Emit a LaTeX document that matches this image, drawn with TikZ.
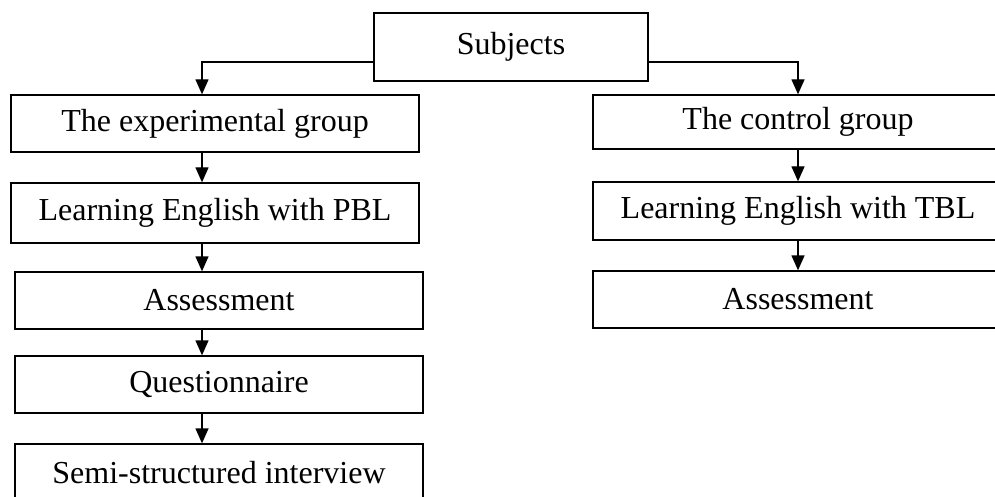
\documentclass[tikz,border=0pt]{standalone}
\usepackage{fontspec}
\setmainfont{Liberation Serif}
\usetikzlibrary{arrows.meta}
\begin{document}
\begin{tikzpicture}[x=1pt,y=-1pt,
  stage/.style={draw,line width=1.3pt,rectangle,inner sep=0pt,
    font=\fontsize{32}{38}\selectfont,minimum width=408pt,minimum height=57pt},
  flow/.style={line width=1.3pt,-{Triangle[width=13pt,length=15pt]}}]
\useasboundingbox (0,0) rectangle (995,497);
\clip (0,0) rectangle (995,497);
% top box
\node[stage,minimum width=274pt,minimum height=68pt] (subj) at (511,47) {Subjects};
% experimental branch
\node[stage,minimum height=57pt] (exp) at (215,123.5) {The experimental group};
\node[stage,minimum height=60pt] (pbl) at (215,213) {Learning English with PBL};
\node[stage] (asl) at (219,300.5) {Assessment};
\node[stage] (que) at (219,384.5) {Questionnaire};
\node[stage] (semi) at (219,472.5) {Semi-structured interview};
% control branch
\node[stage,minimum width=410pt,minimum height=54pt] (ctl) at (798,122) {The control group};
\node[stage,minimum width=410pt,minimum height=58pt] (tbl) at (798,211) {Learning English with TBL};
\node[stage,minimum width=410pt] (asr) at (798,299.5) {Assessment};
% connector columns
\coordinate (lx) at (202,0);
\coordinate (rx) at (798,0);
\coordinate (split) at (0,62);
% connectors
\draw[flow] (subj.west |- split) -| (exp.north -| lx);
\draw[flow] (subj.east |- split) -| (ctl.north -| rx);
\draw[flow] (exp.south -| lx) -- (pbl.north -| lx);
\draw[flow] (pbl.south -| lx) -- (asl.north -| lx);
\draw[flow] (asl.south -| lx) -- (que.north -| lx);
\draw[flow] (que.south -| lx) -- (semi.north -| lx);
\draw[flow] (ctl.south -| rx) -- (tbl.north -| rx);
\draw[flow] (tbl.south -| rx) -- (asr.north -| rx);
\end{tikzpicture}
\end{document}
